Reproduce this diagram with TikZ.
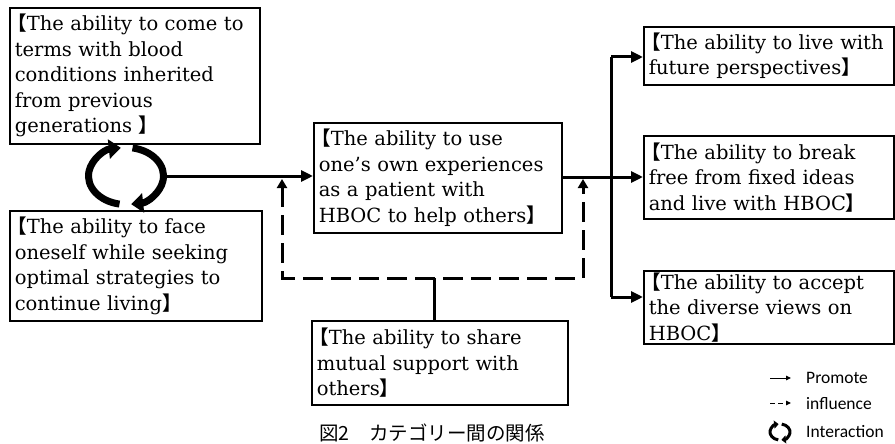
\documentclass[tikz,border=0pt]{standalone}
\usepackage{fontspec}
\setmainfont{DejaVu Serif}
\newfontfamily\cjk{Noto Sans CJK JP}[BoldFont={Noto Sans CJK JP Bold}]
\newfontfamily\legendfont{Carlito}
\usetikzlibrary{arrows.meta,calc}
\newcommand\lbr{{\cjk\bfseries\kern-0.38em【}}
\newcommand\rbr{{\cjk\bfseries】}}
\tikzset{
  box/.style={draw, line width=1.6pt, anchor=north west, inner xsep=5pt, inner ysep=0pt,
    align=left, font=\fontsize{19.5}{25.5}\selectfont},
  conn/.style={line width=3pt, -{Triangle[length=12pt,width=11pt]}},
  infl/.style={line width=3pt, dash pattern=on 20pt off 8pt, {Triangle[length=9pt,width=10pt]}-{Triangle[length=9pt,width=10pt]}},
  cyc/.style={line width=7pt, -{Triangle[length=12pt,width=19pt]}},
  lgd/.style={font=\legendfont\fontsize{17.5}{20}\selectfont, anchor=west, inner sep=0pt},
}
\begin{document}
\begin{tikzpicture}[x=1pt,y=-1pt]
\useasboundingbox (0,0) rectangle (895,444);
% boxes
\node[box, text width=240pt, minimum height=136pt] (b1) at (9,7)
  {\lbr The ability to come to\\terms with blood\\conditions inherited\\from previous\\generations \rbr};
\node[box, text width=242pt, minimum height=110pt] (b2) at (9,210)
  {\lbr The ability to face\\oneself while seeking\\optimal strategies to\\continue living\rbr};
\node[box, text width=238pt, minimum height=110pt] (mid) at (313,122)
  {\lbr The ability to use\\one’s own experiences\\as a patient with\\HBOC to help others\rbr};
\node[box, text width=246pt, minimum height=84pt] (bot) at (311,320)
  {\lbr The ability to share\\mutual support with\\others\rbr};
\node[box, text width=240pt, minimum height=58pt] (rA) at (643,26)
  {\lbr The ability to live with\\future perspectives\rbr};
\node[box, text width=240pt, minimum height=83pt] (rB) at (643,135)
  {\lbr The ability to break\\free from fixed ideas\\and live with HBOC\rbr};
\node[box, text width=240pt, minimum height=73pt] (rC) at (643,270)
  {\lbr The ability to accept\\the diverse views on\\HBOC\rbr};
% cycle
\coordinate (cy) at (126,176);
\coordinate (cyE) at (167,176);
\draw[cyc] ($(cy)+(100:37.5 and 28.5)$) arc[start angle=100, end angle=262, x radius=37.5, y radius=28.5];
\draw[cyc] ($(cy)+(280:37.5 and 28.5)$) arc[start angle=280, end angle=442, x radius=37.5, y radius=28.5];
% main connectors
\draw[conn] (cyE) -- (mid.west |- cyE);
\coordinate (jn) at (611,177);
\coordinate (jA) at (611,57);
\coordinate (jC) at (611,297);
\draw[conn] (mid.east |- jn) -- (rB.west |- jn);
\draw[line width=3pt] (jn) -- (jA);
\draw[line width=3pt] (jn) -- (jC);
\draw[conn] (jA) -- (rA.west |- jA);
\draw[conn] (jC) -- (rC.west |- jC);
% influence
\coordinate (dl) at (282,179);
\coordinate (dr) at (583,179);
\draw[infl] (dl) -- (282,278) -- (583,278) -- (dr);
\coordinate (dm) at (434,278);
\draw[line width=3pt] (dm) -- (dm |- bot.north);
% caption
\node[font=\cjk\fontsize{19.5}{22}\selectfont, inner sep=0pt] (cap) at (432,433) {図2\quad カテゴリー間の関係};
% legend
\coordinate (l1a) at (770,378); \coordinate (l1b) at (791,378);
\coordinate (l2a) at (770,403); \coordinate (l2b) at (791,403);
\draw[line width=1pt, -{Triangle[length=5pt,width=4.5pt]}] (l1a) -- (l1b);
\draw[line width=1pt, dash pattern=on 5pt off 3pt, -{Triangle[length=5pt,width=4.5pt]}] (l2a) -- (l2b);
\node[lgd] (lp) at (806,378) {Promote};
\node[lgd] (li) at (806,404) {influence};
\node[lgd] (lc) at (806,432) {Interaction};
\coordinate (lcy) at (780,432);
\draw[line width=3pt, -{Triangle[length=4.5pt,width=8pt]}] ($(lcy)+(100:10 and 8)$) arc[start angle=100, end angle=262, x radius=10, y radius=8];
\draw[line width=3pt, -{Triangle[length=4.5pt,width=8pt]}] ($(lcy)+(280:10 and 8)$) arc[start angle=280, end angle=442, x radius=10, y radius=8];
\end{tikzpicture}
\end{document}
